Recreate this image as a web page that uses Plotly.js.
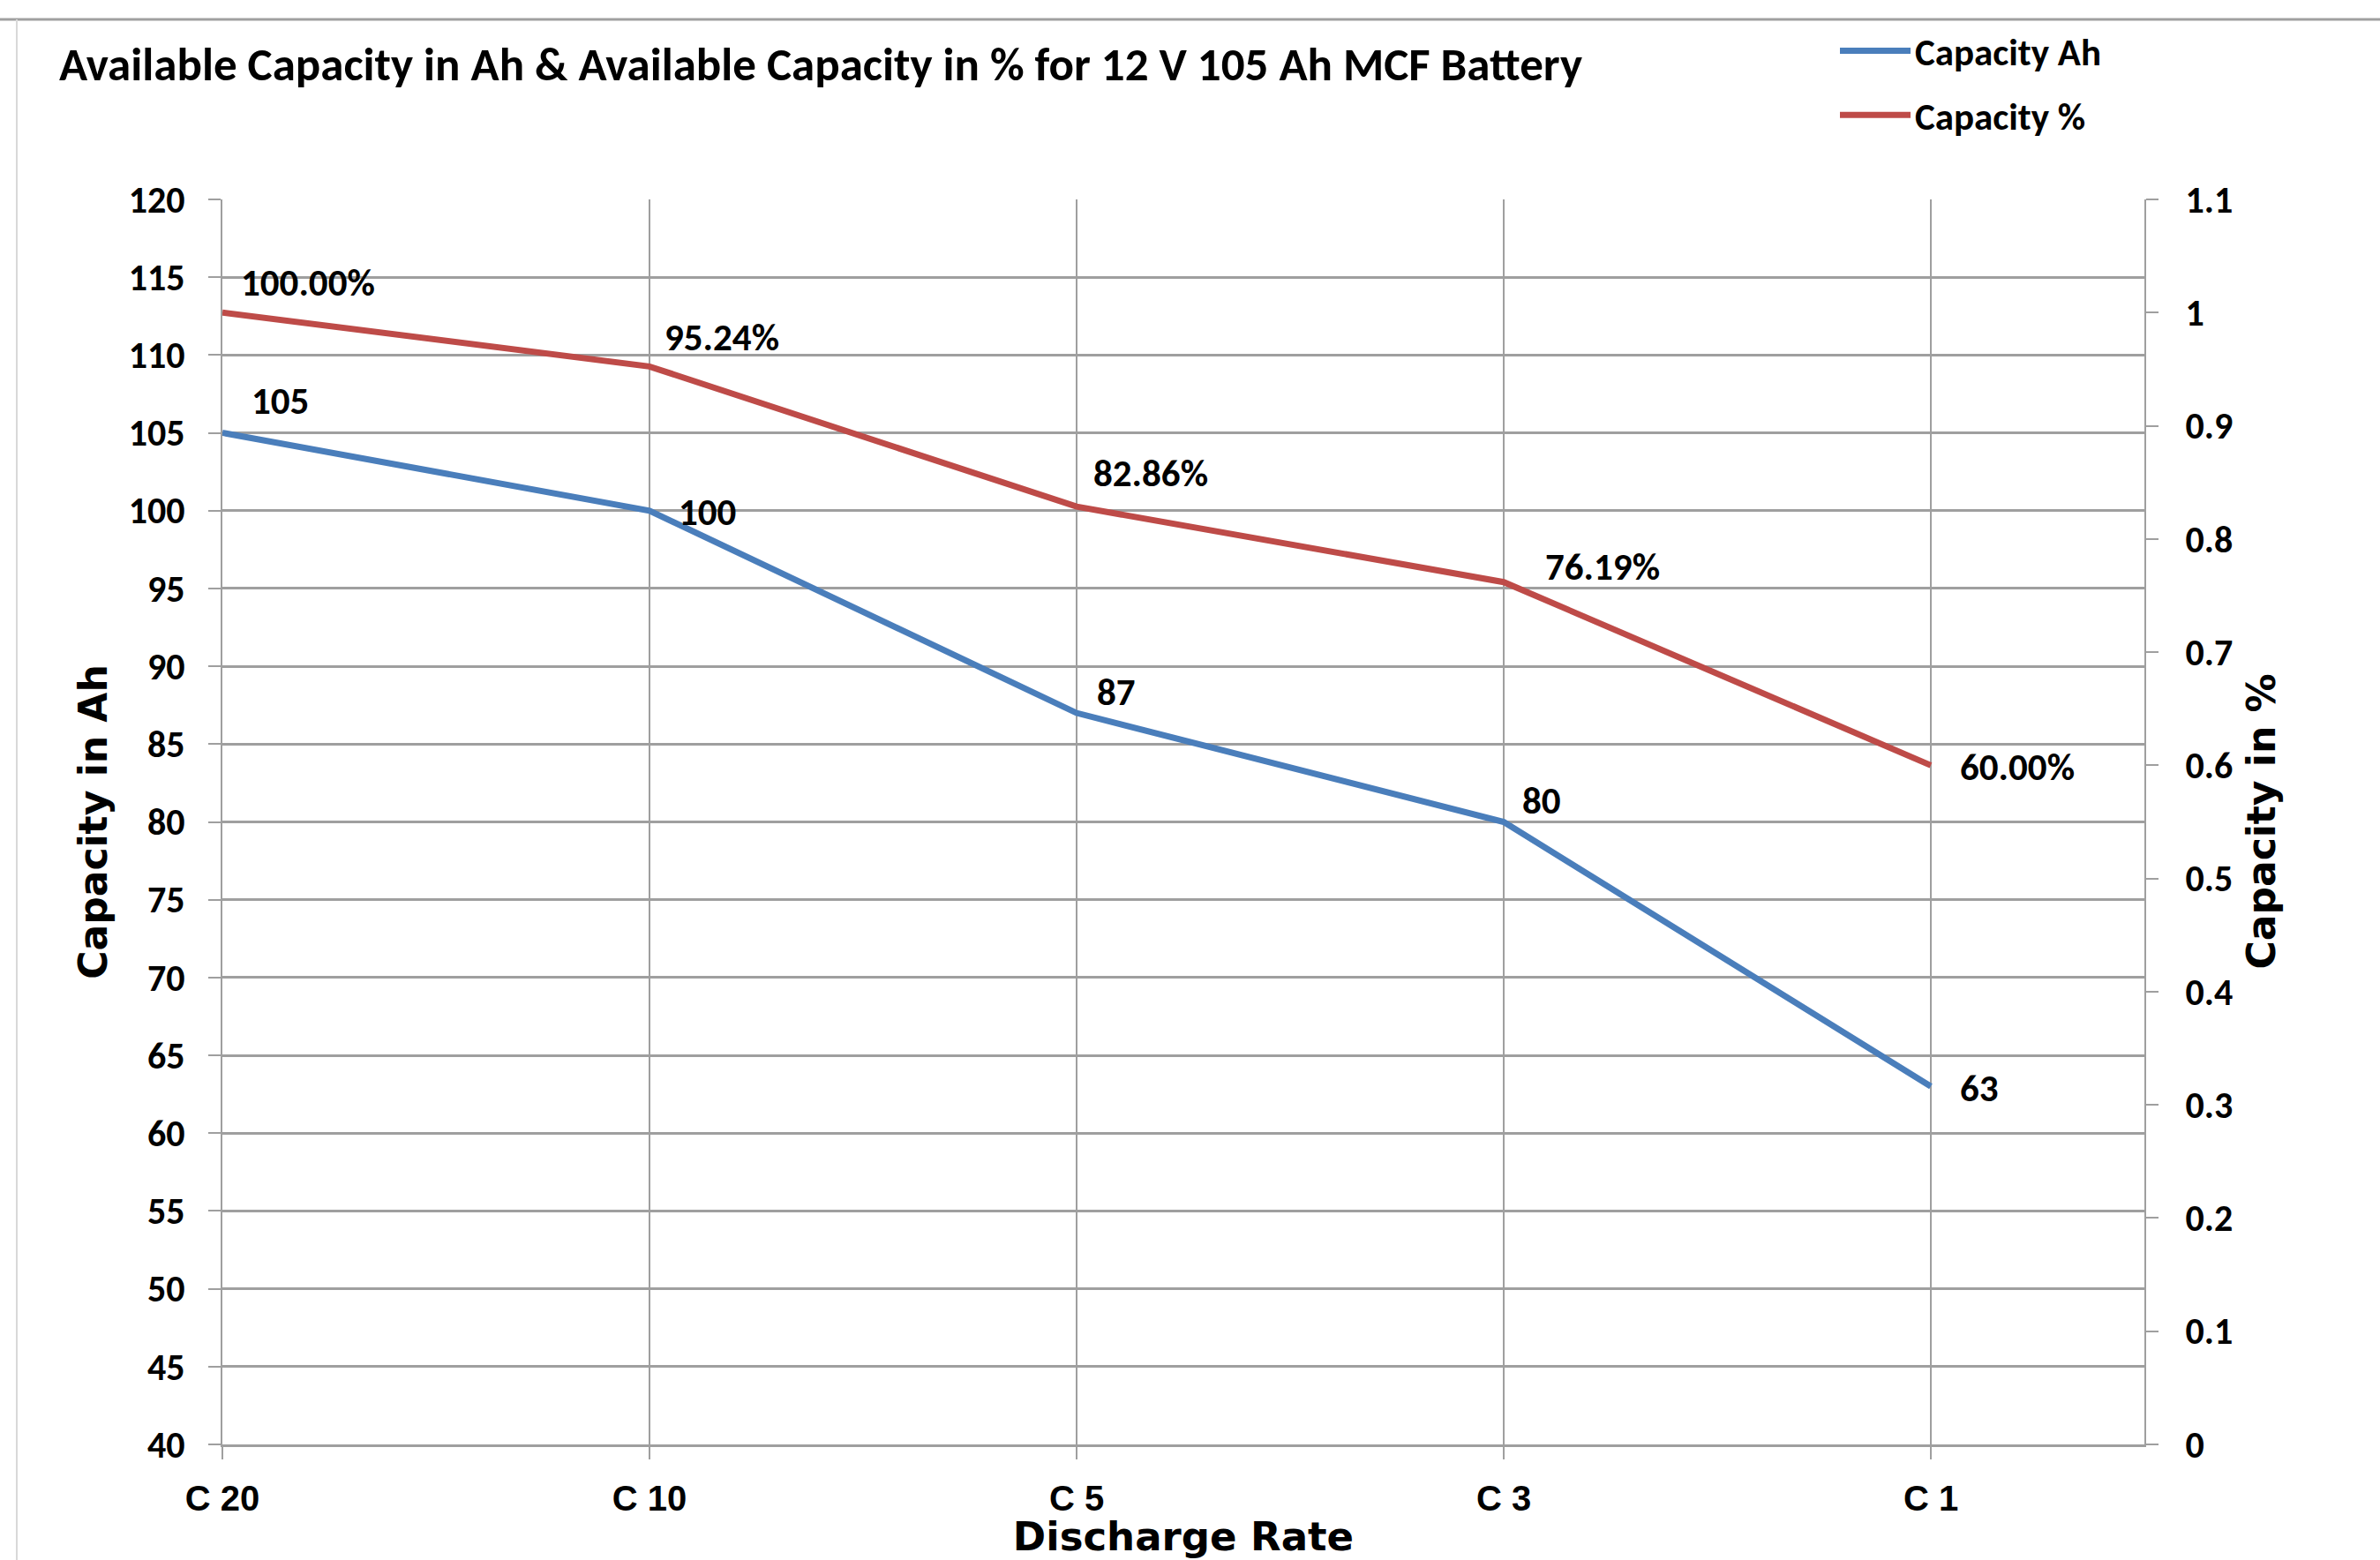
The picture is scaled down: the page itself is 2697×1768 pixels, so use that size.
<!DOCTYPE html>
<html>
<head>
<meta charset="utf-8">
<script src="https://cdn.plot.ly/plotly-3.0.1.min.js"></script>
<style>html,body{margin:0;padding:0;background:#fff;}#chart{width:2697px;height:1768px;}</style>
</head>
<body>
<div id="chart"></div>
<script>
// ---- data ----
const categories = ["C 20", "C 10", "C 5", "C 3", "C 1"];
const capacityAh = [105, 100, 87, 80, 63];
const capacityPct = [1.0, 0.9524, 0.8286, 0.7619, 0.60];
const seriesNames = ["Capacity Ah", "Capacity %"];
const chartTitle = "Available Capacity in Ah & Available Capacity in % for 12 V 105 Ah MCF Battery";
const xTitle = "Discharge Rate";
const yTitle = "Capacity in Ah";
const y2Title = "Capacity in %";

// ---- style ----
const BLUE = "#4A7EBB", RED = "#BE4B48", GRID = "#9f9f9f";
const calibri = "Carlito, Lato, 'Open Sans', sans-serif";
const narrow = "'Liberation Sans Narrow', 'Liberation Sans', Arial, sans-serif";
const dejavu = "'DejaVu Sans', sans-serif";
// label offsets (px) for data labels: [xshift, yshift]
const ahLabelShift = [[31, 36], [31, -2], [21, 24], [19, 24], [31, -2]];
const pctLabelShift = [[19, 34], [15, 33], [17, 38], [45, 17], [31, -2]];

const traces = [
  {x: categories, y: capacityAh, name: seriesNames[0], type: "scatter", mode: "lines",
   line: {color: BLUE, width: 7}, yaxis: "y", legendgroup: "a"},
  {x: categories, y: capacityPct, name: seriesNames[1], type: "scatter", mode: "lines",
   line: {color: RED, width: 7}, yaxis: "y2", legendgroup: "b"}
];

const annotations = [];
capacityAh.forEach((v, i) => annotations.push({
  x: categories[i], y: v, xref: "x", yref: "y", text: String(v), showarrow: false,
  xanchor: "left", yanchor: "middle", xshift: ahLabelShift[i][0], yshift: ahLabelShift[i][1],
  font: {family: calibri, size: 43, color: "#000", weight: "bold"}
}));
capacityPct.forEach((v, i) => annotations.push({
  x: categories[i], y: v, xref: "x", yref: "y2", text: (v * 100).toFixed(2) + "%", showarrow: false,
  xanchor: "left", yanchor: "middle", xshift: pctLabelShift[i][0], yshift: pctLabelShift[i][1],
  font: {family: calibri, size: 43, color: "#000", weight: "bold"}
}));
// secondary axis title
annotations.push({
  text: y2Title, xref: "paper", yref: "paper", x: (2562 - 252) / 2178, y: 0.5,
  xanchor: "center", yanchor: "middle", textangle: -90, showarrow: false,
  font: {family: dejavu, size: 44, color: "#000", weight: "bold"}
});

const layout = {
  width: 2697, height: 1768,
  margin: {l: 252, r: 267, t: 226, b: 131, autoexpand: false},
  paper_bgcolor: "#fff", plot_bgcolor: "#fff",
  title: {text: chartTitle, x: 67 / 2697, xanchor: "left", xref: "container",
          y: 1 - 72 / 1768, yanchor: "middle", yref: "container",
          font: {family: calibri, size: 53, color: "#000", weight: "bold"}},
  xaxis: {type: "category", range: [0, 4.5], showgrid: true, gridcolor: GRID, gridwidth: 2,
          ticks: "outside", ticklen: 14, tickwidth: 2, tickcolor: GRID,
          tickfont: {family: narrow, size: 40, color: "#000", weight: "bold"}, ticklabelstandoff: 10,
          showline: true, linecolor: GRID, linewidth: 3, zeroline: false, automargin: false,
          title: {text: xTitle, standoff: 6, font: {family: dejavu, size: 45, color: "#000", weight: "bold"}}},
  yaxis: {range: [40, 120], dtick: 5, tick0: 40, showgrid: true, gridcolor: GRID, gridwidth: 3,
          ticks: "outside", ticklen: 14, tickwidth: 2, tickcolor: GRID,
          tickfont: {family: calibri, size: 42, color: "#000", weight: "bold"}, ticklabelstandoff: 18,
          showline: true, linecolor: GRID, linewidth: 2, zeroline: false, automargin: false,
          title: {text: yTitle, standoff: 10, font: {family: dejavu, size: 44, color: "#000", weight: "bold"}}},
  yaxis2: {range: [0, 1.1], dtick: 0.1, tick0: 0, overlaying: "y", side: "right", showgrid: false,
          ticks: "outside", ticklen: 14, tickwidth: 2, tickcolor: GRID,
          tickfont: {family: calibri, size: 42, color: "#000", weight: "bold"}, ticklabelstandoff: 22,
          showline: true, linecolor: GRID, linewidth: 2, zeroline: false, automargin: false},
  showlegend: true,
  legend: {x: 2080 / 2697, xref: "container", xanchor: "left", y: 1 - 23 / 1768, yref: "container", yanchor: "top",
           orientation: "v", itemwidth: 80, tracegroupgap: 14, bgcolor: "rgba(0,0,0,0)",
           font: {family: calibri, size: 43, color: "#000", weight: "bold"}},
  annotations: annotations,
  shapes: [
    {type: "line", xref: "paper", yref: "paper", x0: -252 / 2178, x1: 2697 / 2178, y0: 1 + (226 - 22) / 1411, y1: 1 + (226 - 22) / 1411,
     line: {color: "#a0a0a0", width: 3}},
    {type: "line", xref: "paper", yref: "paper", x0: -(252 - 19) / 2178, x1: -(252 - 19) / 2178, y0: -131 / 1411, y1: 1 + (226 - 22) / 1411,
     line: {color: "#d9d9d9", width: 2}}
  ]
};

Plotly.newPlot("chart", traces, layout, {displayModeBar: false, staticPlot: true});
</script>
</body>
</html>
